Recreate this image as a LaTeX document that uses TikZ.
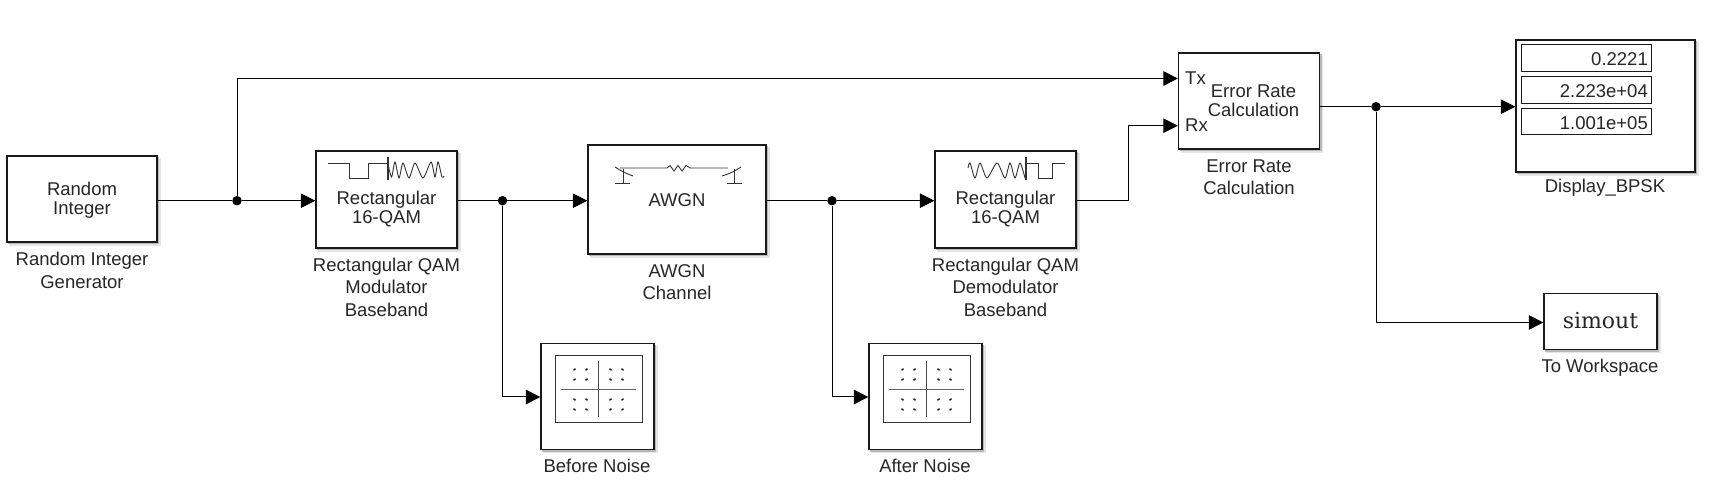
\documentclass[tikz,border=0pt]{standalone}
\usepackage{fontspec}
\setmainfont{Liberation Sans}
\newfontfamily\simfont{DejaVu Serif}
\usetikzlibrary{arrows.meta}
\definecolor{edgec}{HTML}{1A1A1A}
\tikzset{
  x=1pt,y=-1pt,
  block/.style={draw=edgec,line width=1.3pt,fill=white,inner sep=0pt,
    preaction={draw=black!10,fill=black!10,line width=1.5pt,transform canvas={xshift=3pt,yshift=-3pt}},
    preaction={draw=black!28,fill=black!28,line width=1pt,transform canvas={xshift=1.6pt,yshift=-1.6pt}}},
  txt/.style={font=\fontsize{18.5}{19}\selectfont,text=black!85,align=center,inner sep=0pt},
  lab/.style={font=\fontsize{18.5}{22.5}\selectfont,text=black!85,align=center,inner sep=0pt},
  num/.style={font=\fontsize{18.5}{19}\selectfont,text=black!85,inner sep=0pt,anchor=east},
  wire/.style={line width=1pt,draw=black},
  sig/.style={wire,-{Triangle[length=14.5pt,width=14.5pt]}},
  dotn/.style={circle,fill=black,inner sep=0pt,minimum size=9.5pt},
  ico/.style={line width=0.9pt,draw=black!80},
  pics/scopeicon/.style={code={
    \draw[line width=1pt,draw=black!80] (-43.5,-33.5) rectangle (43.5,33.5);
    \draw[line width=1pt,draw=black!60] (-38,0) -- (37,0);
    \draw[line width=1pt,draw=black!70] (0,-28) -- (0,28);
    \foreach \a in {-24,-12}{\foreach \b in {-20,-10}{\draw[line width=1.4pt,black!90] (\a-1,\b+.8) -- (\a+1,\b-.8);}}
    \foreach \a in {12,24}{\foreach \b in {-20,-10}{\draw[line width=1.4pt,black!90] (\a-1,\b-.8) -- (\a+1,\b+.8);}}
    \foreach \a in {-24,-12}{\foreach \b in {10,20}{\draw[line width=1.4pt,black!90] (\a-1,\b-.8) -- (\a+1,\b+.8);}}
    \foreach \a in {12,24}{\foreach \b in {10,20}{\draw[line width=1.4pt,black!90] (\a-1,\b+.8) -- (\a+1,\b-.8);}}
  }}
}
\begin{document}
\begin{tikzpicture}
\useasboundingbox (0,0) rectangle (1722,502);
% blocks
\node[block,minimum width=150pt,minimum height=86pt] (gen) at (82,199) {};
\node[block,minimum width=141pt,minimum height=97pt] (mod) at (386.5,199.5) {};
\node[block,minimum width=178pt,minimum height=109pt] (awgn) at (677,199.5) {};
\node[block,minimum width=141pt,minimum height=97pt] (dem) at (1005.5,199.5) {};
\node[block,minimum width=141pt,minimum height=96pt] (err) at (1249,101) {};
\node[block,minimum width=179pt,minimum height=132pt] (disp) at (1605.5,106) {};
\node[block,minimum width=113pt,minimum height=106pt] (sc1) at (597.5,396.5) {};
\node[block,minimum width=113pt,minimum height=106pt] (sc2) at (925.5,396.5) {};
\node[block,minimum width=113pt,minimum height=56pt] (ws) at (1600.5,321.5) {};
% block texts
\node[txt] (t1) at (82,200) {Random\\Integer};
\node[txt] (t2) at (386.5,209.5) {Rectangular\\16-QAM};
\node[txt] (t3) at (677,200) {AWGN};
\node[txt] (t4) at (1005.5,209.5) {Rectangular\\16-QAM};
\node[txt] (t5) at (1253.5,100.5) {Error Rate\\Calculation};
\node[txt,anchor=west] (tx) at (1185,78) {Tx};
\node[txt,anchor=west] (rx) at (1185,125) {Rx};
\node[font=\simfont\fontsize{22}{24}\selectfont,text=black!85,inner sep=0pt] (sim) at (1600.5,321) {simout};
% display
\node[draw=edgec,line width=1pt,minimum width=130pt,minimum height=27pt,inner sep=0pt] (d1) at (1586,58.5) {};
\node[draw=edgec,line width=1pt,minimum width=130pt,minimum height=27pt,inner sep=0pt] (d2) at (1586,90.5) {};
\node[draw=edgec,line width=1pt,minimum width=130pt,minimum height=26pt,inner sep=0pt] (d3) at (1586,122) {};
\node[num] (n1) at (1648,59) {0.2221};
\node[num] (n2) at (1648,91) {2.223e+04};
\node[num] (n3) at (1648,123) {1.001e+05};
% labels
\node[lab] (l1) at (82,270.5) {Random Integer\\Generator};
\node[lab] (l2) at (386.5,287) {Rectangular QAM\\Modulator\\Baseband};
\node[lab] (l3) at (677,282) {AWGN\\Channel};
\node[lab] (l4) at (1005.5,287) {Rectangular QAM\\Demodulator\\Baseband};
\node[lab] (l5) at (1249,177) {Error Rate\\Calculation};
\node[lab] (l6) at (1605,188) {Display\_BPSK};
\node[lab] (l7) at (597,466) {Before Noise};
\node[lab] (l8) at (925,466) {After Noise};
\node[lab] (l9) at (1600,367.5) {To Workspace};
% scope icons
\pic at (598.5,389.5) {scopeicon};
\pic at (926.5,389.5) {scopeicon};
% modulator icon
\draw[ico] (328,163) -- (349,163) -- (349,178) -- (368,178) -- (368,163) -- (388,163);
\draw[ico,line width=1.1pt] (388,157) -- (388,180);
\draw[ico] plot[smooth,tension=.45] coordinates {(388,164)(391.5,177)(395,162)(399,178)(403,163)(409,178)(415,163)(423,178)(431,162)(435,177)(438,162)(442,177)(444,176)};
% demodulator icon
\draw[ico] (1065,163) -- (1052,163) -- (1052,178) -- (1038,178) -- (1038,163) -- (1026,163);
\draw[ico,line width=1.1pt] (1026,157) -- (1026,180);
\draw[ico] plot[smooth,tension=.45] coordinates {(968,168)(970,163)(975,178)(980,163)(987,178)(997,163)(1005,178)(1010,163)(1015,178)(1020,163)(1025,178)};
% awgn icon
\draw[ico] (620,168) -- (667,168) -- (670,165.5) -- (674,171) -- (678,165.5) -- (682,171) -- (686,165.5) -- (690,168) -- (728,168);
\draw[ico] (615,167) .. controls (621,171) and (627,174) .. (633,176);
\draw[ico] (623,169) -- (623,183);
\draw[ico] (615,183) -- (630,183);
\draw[ico] (741,167) .. controls (735,171) and (729,174) .. (722,176);
\draw[ico] (734,169) -- (734,183);
\draw[ico] (727,183) -- (742,183);
% junctions
\node[dotn] (j1) at (237,200.7) {};
\node[dotn] (j2) at (502.5,200.7) {};
\node[dotn] (j3) at (832,200.7) {};
\node[dotn] (j4) at (1376,106.7) {};
\coordinate (c0) at (1178,78.5);
\coordinate (c1) at (1128,125.7);
\coordinate (c2) at (1128,200.7);
\coordinate (c3) at (541,397);
\coordinate (c4) at (869,397);
\coordinate (c5) at (1544,322.5);
% connectors
\draw[wire] (gen.east |- j1) -- (j1);
\draw[sig] (j1) -- (mod.west |- j1);
\draw[sig] (j1) |- (err.west |- c0);
\draw[wire] (mod.east |- j2) -- (j2);
\draw[sig] (j2) -- (awgn.west |- j2);
\draw[sig] (j2) |- (sc1.west |- c3);
\draw[wire] (awgn.east |- j3) -- (j3);
\draw[sig] (j3) -- (dem.west |- j3);
\draw[sig] (j3) |- (sc2.west |- c4);
\draw[sig] (dem.east |- c2) -- (c2) -- (c1) -- (err.west |- c1);
\draw[wire] (err.east |- j4) -- (j4);
\draw[sig] (j4) -- (disp.west |- j4);
\draw[sig] (j4) |- (ws.west |- c5);
\end{tikzpicture}
\end{document}
